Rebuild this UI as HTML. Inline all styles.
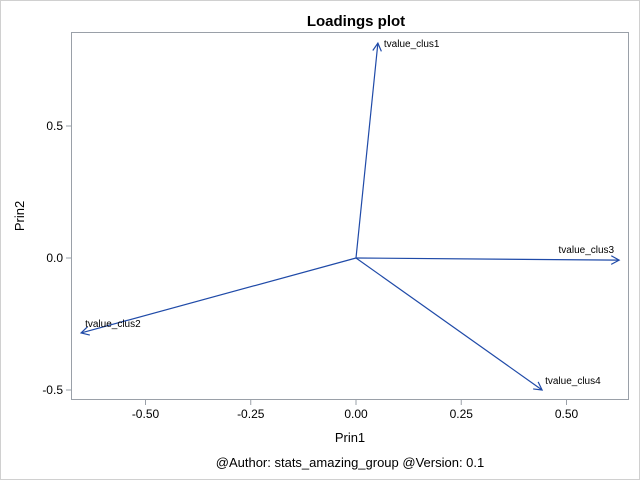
<!DOCTYPE html>
<html><head><meta charset="utf-8"><style>
html,body{margin:0;padding:0;background:#fff;}
svg{display:block;font-family:"Liberation Sans",Arial,sans-serif;}
</style></head><body>
<svg id="chart" width="640" height="480">
<rect x="0.5" y="0.5" width="639" height="479" fill="#fff" stroke="#d0d0d0"/>
<text x="356" y="26" text-anchor="middle" font-size="15" font-weight="bold" fill="#000">Loadings plot</text>
<rect x="71.5" y="32.5" width="557" height="367" fill="none" stroke="#9aa0a8"/>
<g id="xticks"></g><g id="yticks"></g><g id="vecs"></g>
<text x="350" y="442" text-anchor="middle" font-size="13" fill="#000">Prin1</text>
<text transform="translate(24,216) rotate(-90)" text-anchor="middle" font-size="13" fill="#000">Prin2</text>
<text x="350" y="467" text-anchor="middle" font-size="13" fill="#000">@Author: stats_amazing_group @Version: 0.1</text>
</svg>
<script>
const names=["tvalue_clus1","tvalue_clus2","tvalue_clus3","tvalue_clus4"];
const prin1=[0.052,-0.653,0.625,0.442];
const prin2=[0.814,-0.284,-0.008,-0.500];
const xTicks=[-0.5,-0.25,0,0.25,0.5];
const xLabels=["-0.50","-0.25","0.00","0.25","0.50"];
const yTicks=[-0.5,0,0.5];
const yLabels=["-0.5","0.0","0.5"];
const NS="http://www.w3.org/2000/svg";
function sx(v){return 356+v*421;}
function sy(v){return 258-v*264;}
function mk(t,a,p){const e=document.createElementNS(NS,t);for(const k in a)e.setAttribute(k,a[k]);p.appendChild(e);return e;}
const xt=document.getElementById('xticks');
xTicks.forEach((v,i)=>{
 const l=mk('line',{x1:sx(v),x2:sx(v),y1:400,y2:405,stroke:'#9aa0a8'},xt);
 
 
 const t=mk('text',{x:sx(v),y:418,'text-anchor':'middle','font-size':12,fill:'#000'},xt);
 t.textContent=xLabels[i];
 
 
});
const yt=document.getElementById('yticks');
yTicks.forEach((v,i)=>{
 const l=mk('line',{x1:66,x2:71,y1:sy(v),y2:sy(v),stroke:'#9aa0a8'},yt);
 
 
 const t=mk('text',{x:63,y:sy(v)+4,'text-anchor':'end','font-size':12,fill:'#000'},yt);
 t.textContent=yLabels[i];
 
 
});
const vg=document.getElementById('vecs');
names.forEach((n,i)=>{
 const x0=sx(0),y0=sy(0),x1=sx(prin1[i]),y1=sy(prin2[i]);
 const g=mk('g',{},vg);
 
 
 mk('line',{x1:x0,y1:y0,x2:x1,y2:y1,stroke:'#1f4aa8','stroke-width':1.2},g);
 const a=Math.atan2(y1-y0,x1-x0),L=9,s=0.5;
 const p=`${x1-L*Math.cos(a-s)},${y1-L*Math.sin(a-s)} ${x1},${y1} ${x1-L*Math.cos(a+s)},${y1-L*Math.sin(a+s)}`;
 mk('polyline',{points:p,fill:'none',stroke:'#1f4aa8','stroke-width':1.2},g);
 let tx,ty,anc='start';
 if(i===0){tx=x1+6;ty=y1+4;}
 else if(i===1){tx=x1+4;ty=y1-6;}
 else if(i===2){tx=x1-5;ty=y1-7;anc='end';}
 else {tx=x1+3;ty=y1-6;}
 const t=mk('text',{x:tx,y:ty,'text-anchor':anc,'font-size':10,fill:'#000'},g);
 t.textContent=n;
 
 
});
</script>
</body></html>
